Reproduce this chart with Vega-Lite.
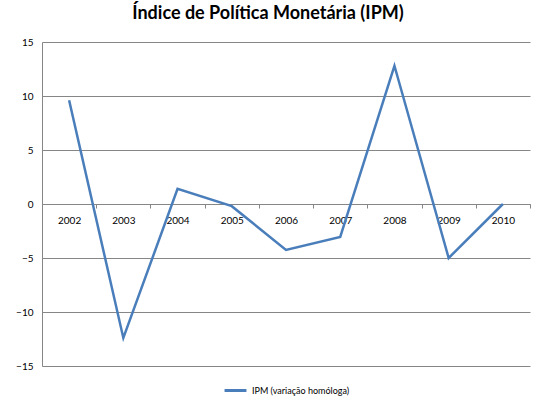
{
  "$schema": "https://vega.github.io/schema/vega-lite/v6.json",
  "autosize": "none",
  "width": 488,
  "height": 324,
  "padding": {"left": 42, "top": 42, "right": 10, "bottom": 36},
  "background": "white",
  "title": {
    "text": "Índice de Política Monetária (IPM)",
    "font": "Lato",
    "fontSize": 18,
    "fontWeight": "bold",
    "color": "#000000",
    "anchor": "middle",
    "dx": -18,
    "offset": 14
  },
  "data": {
    "values": [
      {"ano": "2002", "valor": 9.6, "serie": "IPM (variação homóloga)"},
      {"ano": "2003", "valor": -12.4, "serie": "IPM (variação homóloga)"},
      {"ano": "2004", "valor": 1.4, "serie": "IPM (variação homóloga)"},
      {"ano": "2005", "valor": -0.2, "serie": "IPM (variação homóloga)"},
      {"ano": "2006", "valor": -4.25, "serie": "IPM (variação homóloga)"},
      {"ano": "2007", "valor": -3.05, "serie": "IPM (variação homóloga)"},
      {"ano": "2008", "valor": 12.8, "serie": "IPM (variação homóloga)"},
      {"ano": "2009", "valor": -5.0, "serie": "IPM (variação homóloga)"},
      {"ano": "2010", "valor": 0.0, "serie": "IPM (variação homóloga)"}
    ]
  },
  "mark": {"type": "line", "strokeWidth": 2.5},
  "encoding": {
    "x": {
      "field": "ano",
      "type": "ordinal",
      "scale": {"type": "band", "paddingInner": 0, "paddingOuter": 0},
      "axis": {
        "title": null,
        "labelAngle": 0,
        "offset": -162,
        "tickBand": "extent",
        "domainColor": "#868686",
        "tickColor": "#868686",
        "tickSize": 4,
        "labelFont": "Lato",
        "labelFontSize": 10,
        "labelColor": "#000000",
        "labelPadding": 7,
        "grid": false
      }
    },
    "y": {
      "field": "valor",
      "type": "quantitative",
      "scale": {"domain": [-15, 15], "nice": false, "zero": false},
      "axis": {
        "title": null,
        "values": [-15, -10, -5, 0, 5, 10, 15],
        "grid": true,
        "gridColor": "#868686",
        "gridWidth": 1,
        "domainColor": "#868686",
        "ticks": false,
        "labelPadding": 9,
        "labelFont": "Lato",
        "labelFontSize": 10,
        "labelColor": "#000000"
      }
    },
    "color": {
      "field": "serie",
      "type": "nominal",
      "scale": {"range": ["#4A7EBB"]},
      "legend": {
        "title": null,
        "orient": "bottom",
        "direction": "horizontal",
        "offset": 12,
        "symbolType": "stroke",
        "symbolSize": 480,
        "symbolStrokeWidth": 3,
        "labelFont": "Lato",
        "labelFontSize": 9,
        "labelColor": "#000000"
      }
    }
  },
  "config": {
    "view": {"stroke": null},
    "legend": {"layout": {"bottom": {"anchor": "middle"}}}
  }
}
